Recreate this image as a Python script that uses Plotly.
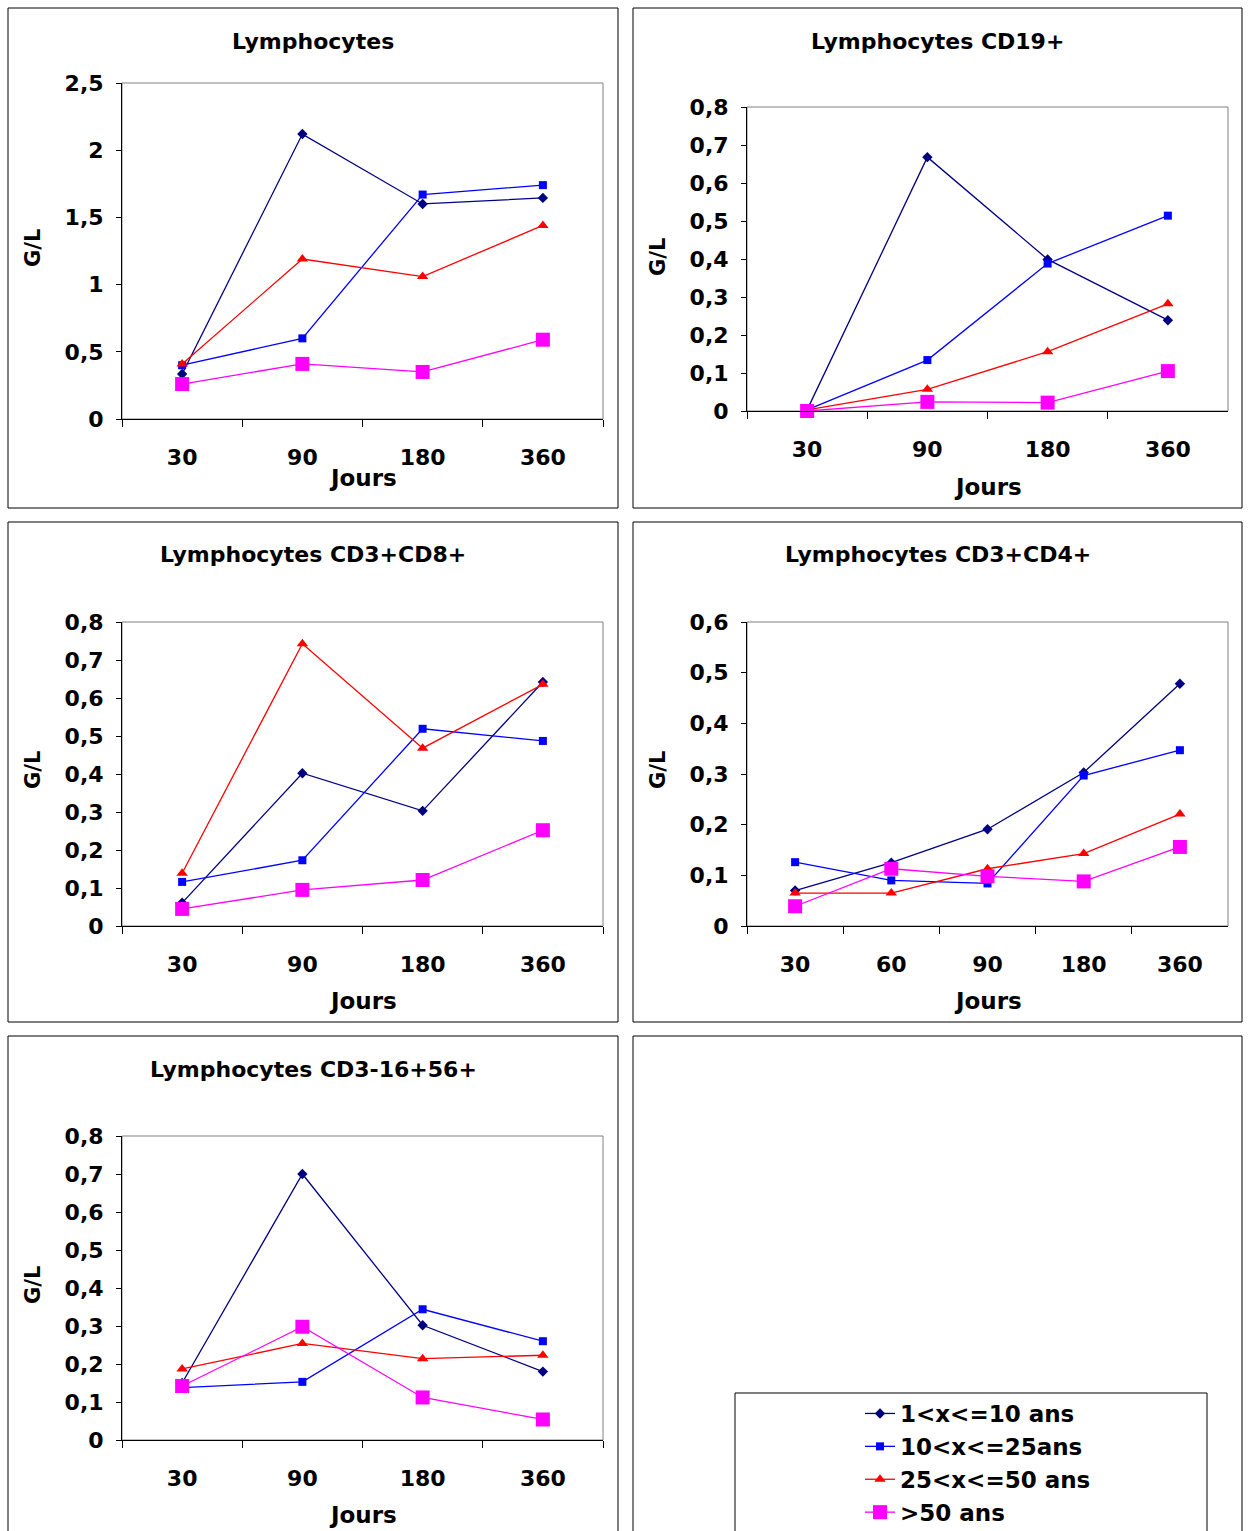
import plotly.graph_objects as go

# ---------------- data ----------------
series_names = ["1<x<=10 ans", "10<x<=25ans", "25<x<=50 ans", ">50 ans"]
series_colors = ["#000080", "#0000FF", "#FF0000", "#FF00FF"]
series_symbols = ["diamond", "square", "triangle-up", "square"]
series_sizes = [8, 8, 10, 14]

days_4 = ["30", "90", "180", "360"]
days_5 = ["30", "60", "90", "180", "360"]

# Lymphocytes
lymph_1_10 = [0.335, 2.12, 1.60, 1.645]
lymph_10_25 = [0.40, 0.60, 1.67, 1.74]
lymph_25_50 = [0.41, 1.19, 1.06, 1.44]
lymph_50 = [0.26, 0.41, 0.35, 0.59]

# Lymphocytes CD19+
cd19_1_10 = [0.003, 0.668, 0.399, 0.239]
cd19_10_25 = [0.003, 0.134, 0.388, 0.514]
cd19_25_50 = [0.003, 0.057, 0.156, 0.282]
cd19_50 = [0.0, 0.024, 0.022, 0.105]

# Lymphocytes CD3+CD8+
cd8_1_10 = [0.061, 0.402, 0.303, 0.642]
cd8_10_25 = [0.116, 0.173, 0.519, 0.487]
cd8_25_50 = [0.139, 0.743, 0.468, 0.636]
cd8_50 = [0.045, 0.095, 0.121, 0.252]

# Lymphocytes CD3+CD4+
cd4_1_10 = [0.070, 0.125, 0.191, 0.303, 0.478]
cd4_10_25 = [0.126, 0.090, 0.084, 0.297, 0.347]
cd4_25_50 = [0.065, 0.065, 0.113, 0.143, 0.221]
cd4_50 = [0.039, 0.113, 0.098, 0.088, 0.156]

# Lymphocytes CD3-16+56+
nk_1_10 = [0.15, 0.700, 0.302, 0.180]
nk_10_25 = [0.138, 0.153, 0.344, 0.260]
nk_25_50 = [0.187, 0.254, 0.214, 0.223]
nk_50 = [0.142, 0.298, 0.112, 0.054]

# ---------------- layout helpers ----------------
W, H = 1248, 1531


def px(x):
    return x / W


def py(y):
    return 1 - y / H


FONT = "DejaVu Sans, Liberation Sans, Arial, sans-serif"

panels = [
    dict(title="Lymphocytes", cats=days_4,
         series=[lymph_1_10, lymph_10_25, lymph_25_50, lymph_50],
         ymax=2.5, dtick=0.5, frame=(8, 8, 618, 508), plot=(122, 83, 603, 419),
         title_y=41, jours_y=478, gl_y=248),
    dict(title="Lymphocytes CD19+", cats=days_4,
         series=[cd19_1_10, cd19_10_25, cd19_25_50, cd19_50],
         ymax=0.8, dtick=0.1, frame=(633, 8, 1242, 508), plot=(747, 107, 1228, 411),
         title_y=41, jours_y=487, gl_y=257),
    dict(title="Lymphocytes CD3+CD8+", cats=days_4,
         series=[cd8_1_10, cd8_10_25, cd8_25_50, cd8_50],
         ymax=0.8, dtick=0.1, frame=(8, 522, 618, 1022), plot=(122, 622, 603, 926),
         title_y=555, jours_y=1001, gl_y=770),
    dict(title="Lymphocytes CD3+CD4+", cats=days_5,
         series=[cd4_1_10, cd4_10_25, cd4_25_50, cd4_50],
         ymax=0.6, dtick=0.1, frame=(633, 522, 1242, 1022), plot=(747, 622, 1228, 926),
         title_y=555, jours_y=1001, gl_y=770),
    dict(title="Lymphocytes CD3-16+56+", cats=days_4,
         series=[nk_1_10, nk_10_25, nk_25_50, nk_50],
         ymax=0.8, dtick=0.1, frame=(8, 1036, 618, 1540), plot=(122, 1136, 603, 1440),
         title_y=1069, jours_y=1515, gl_y=1285),
]

fig = go.Figure()
shapes = []
annotations = []
layout = {}

for i, p in enumerate(panels, start=1):
    xa = "x" if i == 1 else f"x{i}"
    ya = "y" if i == 1 else f"y{i}"
    xk = "xaxis" if i == 1 else f"xaxis{i}"
    yk = "yaxis" if i == 1 else f"yaxis{i}"
    l, t, r, b = p["plot"]
    for s, vals in enumerate(p["series"]):
        fig.add_trace(go.Scatter(
            x=p["cats"], y=vals, xaxis=xa, yaxis=ya,
            mode="lines+markers", name=series_names[s],
            line=dict(color=series_colors[s], width=1.3),
            marker=dict(symbol=series_symbols[s], size=series_sizes[s],
                        color=series_colors[s]),
            cliponaxis=False, showlegend=(i == 1),
        ))
    layout[xk] = dict(
        domain=[px(l), px(r)], anchor=ya, type="category",
        range=[-0.5, len(p["cats"]) - 0.5],
        showline=True, linecolor="black", linewidth=1,
        ticks="outside", tickson="boundaries", ticklen=7, tickcolor="black",
        showgrid=False, zeroline=False, automargin=False,
        tickfont=dict(family=FONT, size=22, color="black", weight="bold"),
        ticklabelstandoff=19, fixedrange=True,
    )
    layout[yk] = dict(
        domain=[py(b), py(t)], anchor=xa,
        range=[0, p["ymax"]], dtick=p["dtick"], tick0=0,
        showline=True, linecolor="black", linewidth=1,
        ticks="outside", ticklen=5, tickcolor="black",
        showgrid=False, zeroline=False, automargin=False,
        tickfont=dict(family=FONT, size=22, color="black", weight="bold"),
        ticklabelstandoff=8, fixedrange=True,
    )
    # grey plot-area border
    shapes.append(dict(type="rect", xref=f"{xa} domain", yref=f"{ya} domain",
                       x0=0, x1=1, y0=0, y1=1, line=dict(color="#808080", width=1),
                       layer="below"))
    # outer panel frame
    fl, ft, fr, fb = p["frame"]
    shapes.append(dict(type="rect", xref="paper", yref="paper",
                       x0=px(fl), x1=px(fr), y0=py(fb), y1=py(ft),
                       line=dict(color="black", width=1)))
    cx = (l + r) / 2
    fcx = (fl + fr) / 2
    annotations.append(dict(text=p["title"], x=px(fcx), y=py(p["title_y"]),
                            xref="paper", yref="paper", showarrow=False,
                            xanchor="center", yanchor="middle",
                            font=dict(family=FONT, size=22, color="black", weight="bold")))
    annotations.append(dict(text="Jours", x=px(cx), y=py(p["jours_y"]),
                            xref="paper", yref="paper", showarrow=False,
                            xanchor="center", yanchor="middle",
                            font=dict(family=FONT, size=23, color="black", weight="bold")))
    annotations.append(dict(text="G/L", x=px(fl + 25), y=py(p["gl_y"]),
                            xref="paper", yref="paper", showarrow=False, textangle=-90,
                            xanchor="center", yanchor="middle",
                            font=dict(family=FONT, size=21, color="black", weight="bold")))

# sixth (legend) panel frame and legend box
shapes.append(dict(type="rect", xref="paper", yref="paper",
                   x0=px(633), x1=px(1242), y0=py(1540), y1=py(1036),
                   line=dict(color="black", width=1)))
shapes.append(dict(type="rect", xref="paper", yref="paper",
                   x0=px(735), x1=px(1207), y0=py(1540), y1=py(1393),
                   line=dict(color="black", width=1)))

fig.update_layout(
    width=W, height=H,
    margin=dict(l=0, r=0, t=0, b=0, autoexpand=False),
    paper_bgcolor="white", plot_bgcolor="white",
    separators=",.",
    showlegend=True,
    legend=dict(x=px(860), y=py(1392), xanchor="left", yanchor="top",
                bgcolor="rgba(0,0,0,0)", borderwidth=0,
                font=dict(family=FONT, size=23, color="black", weight="bold"),
                tracegroupgap=0, itemsizing="trace"),
    shapes=shapes, annotations=annotations,
    **layout,
)

# remove the default page margin so the figure fills the window exactly
fig.write_html(
    "out.html",
    config={"displayModeBar": False, "staticPlot": True},
    post_script="document.body.style.margin='0';document.body.style.overflow='hidden';",
)
